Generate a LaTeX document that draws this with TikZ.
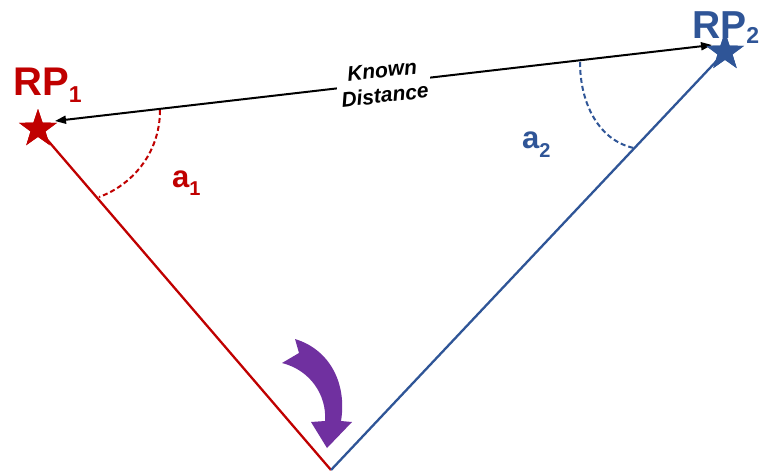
\documentclass[tikz,border=0pt]{standalone}
\usepackage{fontspec}
\setmainfont{Liberation Sans}
\usetikzlibrary{shapes.geometric,arrows.meta}
\definecolor{rpred}{HTML}{C00000}
\definecolor{rpblue}{HTML}{2F5597}
\definecolor{rppurple}{HTML}{7030A0}
\tikzset{
  rpstar/.style={star, star points=5, star point ratio=2.55, minimum size=40pt, inner sep=0pt, draw=none},
  side/.style={line width=2.3pt},
  anglearc/.style={line width=2pt, dash pattern=on 5pt off 3pt},
  lbl/.style={inner sep=0pt, font=\bfseries},
}
\begin{document}
\begin{tikzpicture}[x=1pt,y=-1pt]
\useasboundingbox[fill=white] (0,0) rectangle (768,472);
% vertices
\node[rpstar, fill=rpred] (s1) at (38,129) {};
\node[rpstar, fill=rpblue] (s2) at (725,52) {};
\coordinate (v) at (331,470);
\coordinate (e1) at (55,121);
\coordinate (e2) at (712,45);
% sides
\draw[side, rpred] (s1.center) -- (v);
\draw[side, rpblue] (s2.center) -- (v);
% angle arcs
\draw[anglearc, rpred] (160,110) .. controls (160,155) and (130,186) .. (99,197);
\draw[anglearc, rpblue] (580,62) .. controls (580,105) and (600,141) .. (634,148);
% known distance arrow
\draw[line width=2pt, {Triangle[length=11pt,width=8pt]}-{Triangle[length=11pt,width=8pt]}] (e1) -- (e2)
  node[pos=0.5, fill=white, inner sep=3pt, rotate=6.6, align=center,
       font=\fontsize{21}{25}\selectfont\bfseries\itshape] (kd) {Known\\Distance};
% redraw stars on top
\node[rpstar, fill=rpred] at (s1) {};
\node[rpstar, fill=rpblue] at (s2) {};
% purple rotation arrow
\fill[rppurple] (295,339) .. controls (331,350) and (347,385) .. (341,421)
  -- (352,422) -- (327,448) -- (311,422) -- (325,421)
  .. controls (327,395) and (310,370) .. (282,363) -- (299,353) -- cycle;
% labels
\node[lbl, anchor=base west, text=rpred, font=\fontsize{40}{40}\selectfont\bfseries] (l1) at (13,95)
  {RP\raisebox{-7pt}{\fontsize{23}{23}\selectfont 1}};
\node[lbl, anchor=base west, text=rpblue, font=\fontsize{39}{39}\selectfont\bfseries] (l2) at (692,38)
  {RP\raisebox{-5pt}{\fontsize{23}{23}\selectfont 2}};
\node[lbl, anchor=base west, text=rpred, font=\fontsize{31}{31}\selectfont\bfseries] (a1) at (172,187)
  {a\raisebox{-8pt}{\fontsize{20}{20}\selectfont 1}};
\node[lbl, anchor=base west, text=rpblue, font=\fontsize{31}{31}\selectfont\bfseries] (a2) at (522,148)
  {a\raisebox{-9pt}{\fontsize{20}{20}\selectfont 2}};
\end{tikzpicture}
\end{document}
